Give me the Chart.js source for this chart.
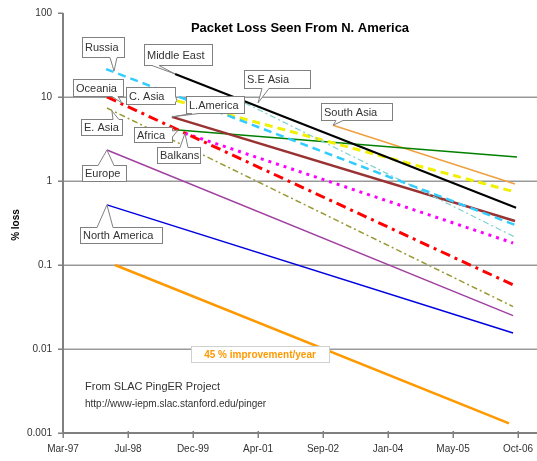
<!DOCTYPE html>
<html>
<head>
<meta charset="utf-8">
<script src="https://cdn.jsdelivr.net/npm/chart.js@4/dist/chart.umd.min.js"></script>
<style>
	html, body { margin: 0; padding: 0; background: #fff; }
	#wrap { width: 537px; height: 461px; position: relative; }
</style>
</head>
<body>
<div id="wrap"><canvas id="loss-graph"></canvas></div>
<script>
// trend lines, one per region: start/end date and % loss at each end
const regions = ["Russia", "Middle East", "S.E Asia", "Oceania", "C. Asia", "L.America", "E. Asia", "Africa", "Balkans", "Europe", "North America", "South Asia", "45 % improvement/year"];
const startDates = ["1998-02-07", "1999-07-23", "2001-01-11", "1998-02-14", "1999-08-07", "1999-06-29", "1998-02-14", "1999-08-15", "1999-10-07", "1998-02-14", "1998-02-14", "2002-11-19", "1998-04-17"];
const endDates = ["2006-09-19", "2006-09-27", "2006-09-19", "2006-09-04", "2006-09-19", "2006-09-19", "2006-09-04", "2006-10-04", "2006-09-04", "2006-09-04", "2006-09-04", "2006-09-19", "2006-08-04"];
const startLoss = [21.5, 18.8, 8.5, 10, 9.0, 5.8, 7.4, 4.05, 3.7, 2.34, 0.52, 4.6, 0.1];
const endLoss = [0.30, 0.48, 0.215, 0.058, 0.74, 0.334, 0.032, 1.93, 0.183, 0.025, 0.0155, 0.92, 0.0013];

const xTickLabels = ["Mar-97", "Jul-98", "Dec-99", "Apr-01", "Sep-02", "Jan-04", "May-05", "Oct-06"];
const yTickValues = [0.001, 0.01, 0.1, 1, 10, 100];
const yTickLabels = ["0.001", "0.01", "0.1", "1", "10", "100"];

// line styles
const colors = ["#33ccff", "#000000", "#7fd0d0", "#ff0000", "#f0f000", "#993333", "#999933", "#008000", "#ff00ff", "#a040a0", "#0000e0", "#f0a040", "#ff9900"];
const widths = [2.5, 2, 1.2, 3, 3, 2.5, 1.5, 1.5, 3, 1.5, 1.5, 1.5, 2.5];
const dashes = [[8, 5], [], [6, 3, 2, 3], [10, 5, 3, 5], [8, 5], [], [6, 3, 2, 3], [], [3, 5], [], [], [], []];

// callout boxes: [left, top, width, height], wedge [side, from, to], tip offset from the line start
const calloutBox = [[82, 37, 42, 20], [144, 44, 68, 21], [244, 70, 66, 18], [73, 79, 50, 17], [126, 87, 49, 17], [186, 96, 58, 17], [81, 119, 41, 16], [134, 127, 38, 15], [157, 147, 43, 16], [82, 165, 44, 16], [80, 227, 82, 16], [321, 103, 71, 17]];
const calloutWedge = [["bottom", 110, 117], ["bottom", 152, 159], ["bottom", 262, 269], ["bottom", 112, 118], ["right", 96, 102], ["bottom", 192, 199], ["top", 113, 119], ["right", 131, 137], ["top", 180, 188], ["top", 98, 114], ["top", 97, 113], ["bottom", 336, 343]];
const tipOffset = [[8, 2], [0, 0], [13, 0], [15, 6], [0, 0], [0, 0], [5, 3], [0, 0], [0, 0], [0, 0], [0, 0], [0, 0]];

const origin = Date.UTC(1997, 2, 13);
const dayOf = (s) => (Date.parse(s) - origin) / 86400000;
const FONT = "'Liberation Sans', Arial, sans-serif";

const datasets = regions.map((r, i) => ({
	label: r,
	data: [{ x: dayOf(startDates[i]), y: startLoss[i] }, { x: dayOf(endDates[i]), y: endLoss[i] }],
	borderColor: colors[i],
	borderWidth: widths[i],
	borderDash: dashes[i],
	pointRadius: 0,
	tension: 0,
	fill: false
}));

function drawCallout(ctx, box, wedge, tip, text) {
	const [x, y, w, h] = box;
	ctx.fillStyle = "#fff";
	ctx.strokeStyle = "#808080";
	ctx.lineWidth = 1;
	ctx.fillRect(x, y, w, h);
	ctx.strokeRect(x + 0.5, y + 0.5, w, h);
	let a, b, ia, ib;
	if (wedge[0] === "bottom") { a = [wedge[1], y + h + 0.5]; b = [wedge[2], y + h + 0.5]; ia = [a[0], a[1] - 1.5]; ib = [b[0], b[1] - 1.5]; }
	else if (wedge[0] === "top") { a = [wedge[1], y + 0.5]; b = [wedge[2], y + 0.5]; ia = [a[0], a[1] + 1.5]; ib = [b[0], b[1] + 1.5]; }
	else { a = [x + w + 0.5, wedge[1]]; b = [x + w + 0.5, wedge[2]]; ia = [a[0] - 1.5, a[1]]; ib = [b[0] - 1.5, b[1]]; }
	ctx.beginPath();
	ctx.moveTo(ia[0], ia[1]);
	ctx.lineTo(a[0], a[1]);
	ctx.lineTo(tip[0], tip[1]);
	ctx.lineTo(b[0], b[1]);
	ctx.lineTo(ib[0], ib[1]);
	ctx.closePath();
	ctx.fill();
	ctx.beginPath();
	ctx.moveTo(a[0], a[1]);
	ctx.lineTo(tip[0], tip[1]);
	ctx.lineTo(b[0], b[1]);
	ctx.stroke();
	ctx.fillStyle = "#333";
	ctx.font = "11px " + FONT;
	ctx.textAlign = "left";
	ctx.textBaseline = "middle";
	ctx.fillText(text, x + 3, y + h / 2 + 1);
}

// axes, tick marks and decade grid lines (no line along the top edge)
const axesAndGrid = {
	id: "axesAndGrid",
	beforeDatasetsDraw(chart) {
		const ctx = chart.ctx, area = chart.chartArea, xs = chart.scales.x, ys = chart.scales.y;
		ctx.save();
		ctx.strokeStyle = "#999";
		ctx.lineWidth = 1.5;
		yTickValues.forEach((v) => {
			const py = Math.round(ys.getPixelForValue(v)) + 0.25;
			if (v < 100) {
				ctx.beginPath();
				ctx.moveTo(area.left, py);
				ctx.lineTo(area.right, py);
				ctx.stroke();
			}
			ctx.strokeStyle = "#808080";
			ctx.beginPath();
			ctx.moveTo(area.left - 5, py);
			ctx.lineTo(area.left, py);
			ctx.stroke();
			ctx.strokeStyle = "#999";
		});
		ctx.strokeStyle = "#808080";
		xTickLabels.forEach((l, i) => {
			const px = Math.round(xs.getPixelForValue(i * 500)) + 0.25;
			ctx.beginPath();
			ctx.moveTo(px, area.bottom - 2);
			ctx.lineTo(px, area.bottom + 5);
			ctx.stroke();
		});
		ctx.lineWidth = 2;
		ctx.beginPath();
		ctx.moveTo(area.left, area.top);
		ctx.lineTo(area.left, area.bottom);
		ctx.lineTo(area.right, area.bottom);
		ctx.stroke();
		ctx.restore();
	}
};

const annotations = {
	id: "annotations",
	afterDatasetsDraw(chart) {
		const ctx = chart.ctx;
		const xs = chart.scales.x, ys = chart.scales.y;
		ctx.save();
		for (let i = 0; i < calloutBox.length; i++) {
			const tip = [xs.getPixelForValue(dayOf(startDates[i])) + tipOffset[i][0], ys.getPixelForValue(startLoss[i]) + tipOffset[i][1]];
			drawCallout(ctx, calloutBox[i], calloutWedge[i], tip, regions[i]);
		}
		// improvement label
		ctx.fillStyle = "#fff";
		ctx.fillRect(191, 346, 138, 16);
		ctx.strokeStyle = "#d0d0d0";
		ctx.strokeRect(191.5, 346.5, 138, 16);
		ctx.fillStyle = "#ff9900";
		ctx.font = "bold 10px " + FONT;
		ctx.textAlign = "center";
		ctx.textBaseline = "middle";
		ctx.fillText(regions[12], 260, 355);
		// title
		ctx.fillStyle = "#000";
		ctx.font = "bold 13px " + FONT;
		ctx.fillText("Packet Loss Seen From N. America", 300, 28);
		// source
		ctx.fillStyle = "#333";
		ctx.textAlign = "left";
		ctx.font = "11px " + FONT;
		ctx.fillText("From SLAC PingER Project", 85, 387);
		ctx.font = "10px " + FONT;
		ctx.fillText("http://www-iepm.slac.stanford.edu/pinger", 85, 404);
		// y axis title
		ctx.translate(16, 225);
		ctx.rotate(-Math.PI / 2);
		ctx.fillStyle = "#000";
		ctx.font = "bold 10px " + FONT;
		ctx.textAlign = "center";
		ctx.fillText("% loss", 0, 0);
		ctx.restore();
	}
};

new Chart(document.getElementById("loss-graph"), {
	type: "line",
	data: { datasets: datasets },
	options: {
		responsive: true,
		maintainAspectRatio: false,
		animation: false,
		layout: { padding: { top: 13, left: 0, right: 0, bottom: 0 } },
		plugins: { legend: { display: false }, tooltip: { enabled: false } },
		scales: {
			x: {
				type: "linear",
				min: 0,
				max: 3646,
				afterBuildTicks: (scale) => { scale.ticks = xTickLabels.map((l, i) => ({ value: i * 500 })); },
				afterFit: (scale) => { scale.height = 28; },
				ticks: {
					autoSkip: false,
					maxRotation: 0,
					padding: 2,
					color: "#333",
					font: { family: FONT, size: 10 },
					callback: (v, i) => xTickLabels[i]
				},
				grid: { display: false },
				border: { display: false }
			},
			y: {
				type: "logarithmic",
				min: 0.001,
				max: 100,
				afterBuildTicks: (scale) => { scale.ticks = yTickValues.map((v) => ({ value: v })); },
				afterFit: (scale) => { scale.width = 63; },
				ticks: {
					autoSkip: false,
					padding: 3,
					color: "#333",
					font: { family: FONT, size: 10 },
					callback: (v) => yTickLabels[yTickValues.indexOf(v)]
				},
				grid: { display: false },
				border: { display: false }
			}
		}
	},
	plugins: [axesAndGrid, annotations]
});
</script>
</body>
</html>
